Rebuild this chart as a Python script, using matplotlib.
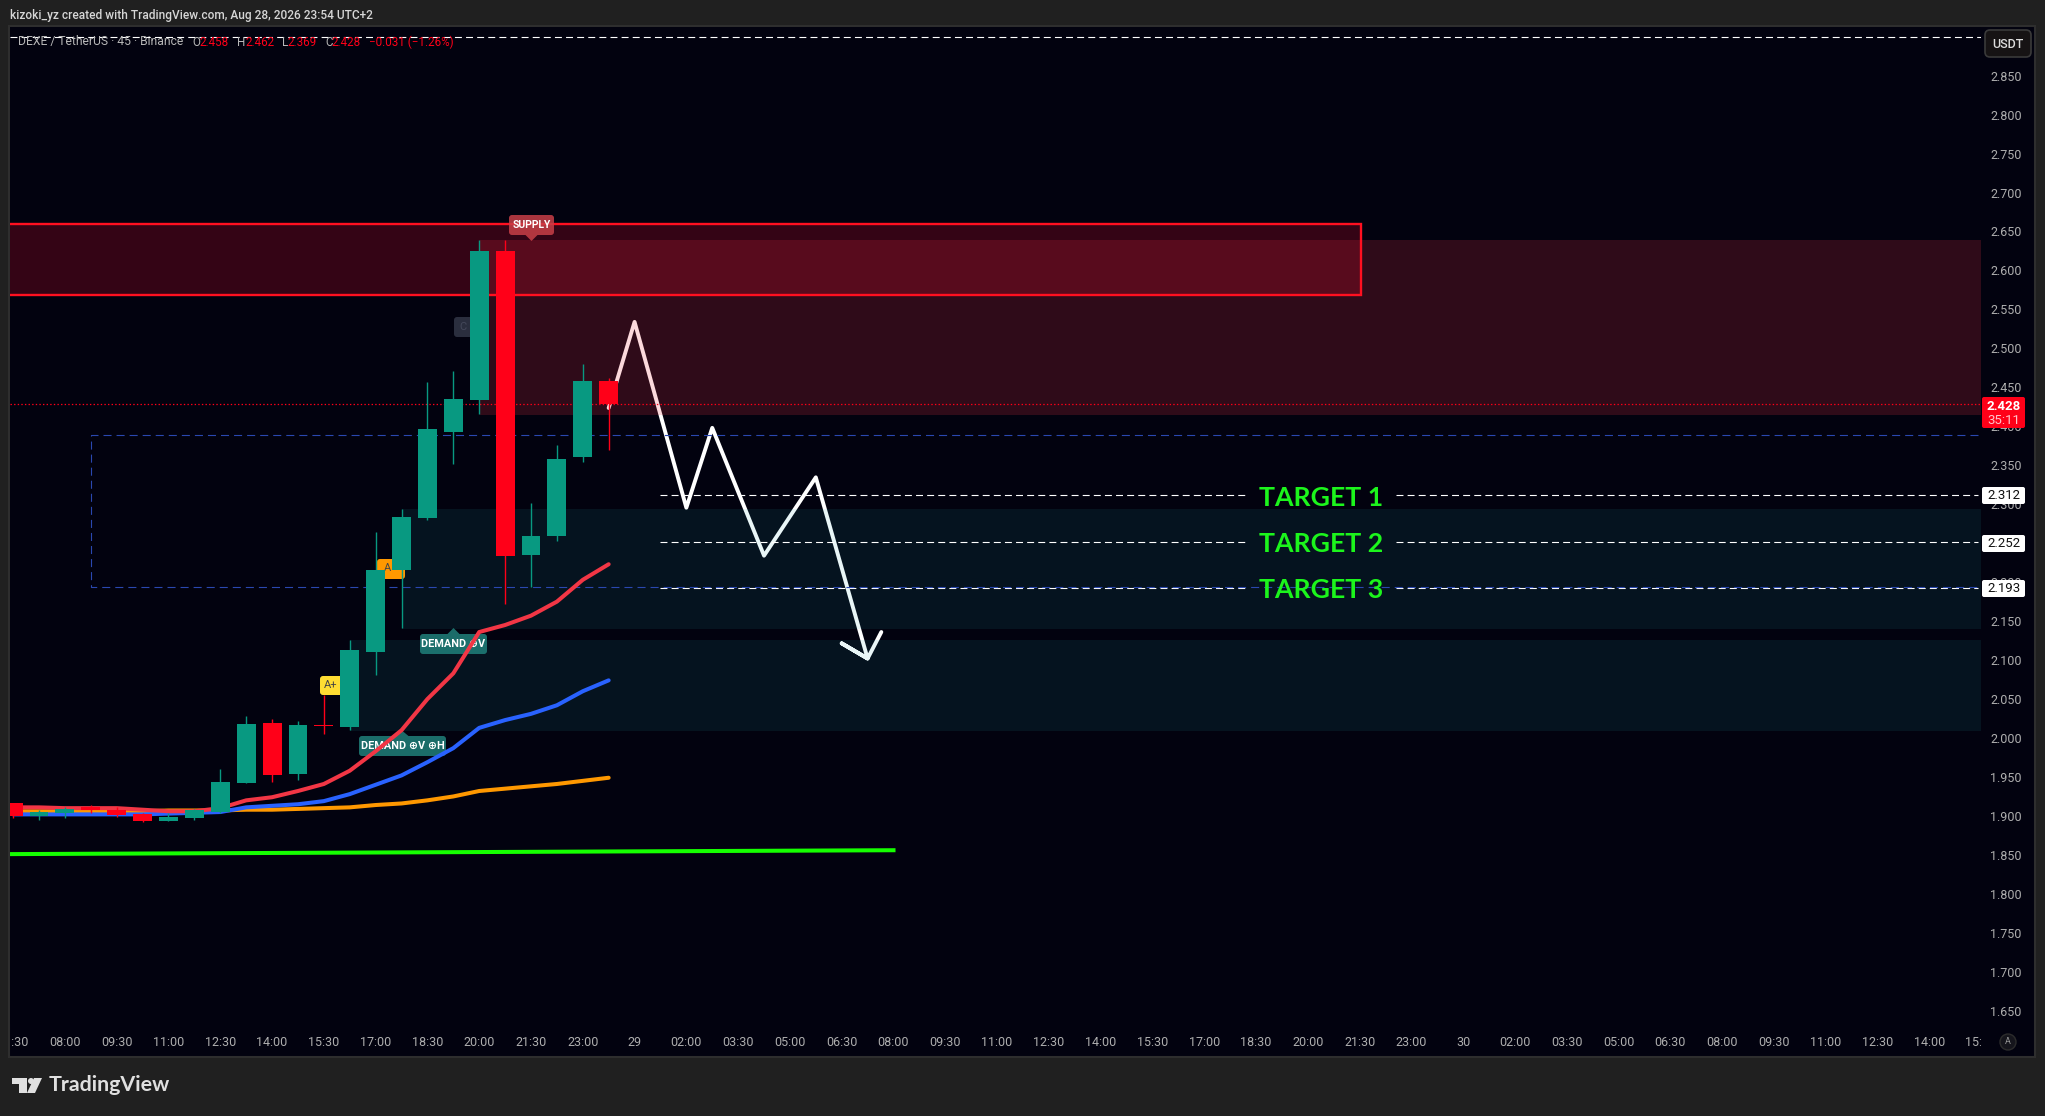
import matplotlib
matplotlib.use("Agg")
import matplotlib.pyplot as plt
import numpy as np
from matplotlib.patches import Circle, FancyBboxPatch, Polygon, Rectangle
from matplotlib.transforms import Affine2D, Bbox

# candles, x is the candle number counted from the 08:00 bar
candle_x = list(range(-2, 22))
opens = [1.917, 1.900, 1.904, 1.911, 1.908, 1.902, 1.893, 1.897, 1.905, 1.942, 2.019, 1.954,
         2.017, 2.014, 2.110, 2.216, 2.282, 2.393, 2.434, 2.625, 2.235, 2.259, 2.361, 2.458]
highs = [1.917, 1.908, 1.911, 1.914, 1.911, 1.904, 1.904, 1.909, 1.960, 2.028, 2.024, 2.022,
         2.055, 2.126, 2.264, 2.294, 2.457, 2.471, 2.639, 2.639, 2.302, 2.376, 2.480, 2.462]
lows = [1.897, 1.895, 1.897, 1.904, 1.899, 1.892, 1.893, 1.895, 1.904, 1.942, 1.944, 1.946,
        2.005, 2.010, 2.081, 2.141, 2.280, 2.352, 2.416, 2.172, 2.194, 2.253, 2.354, 2.369]
closes = [1.900, 1.905, 1.909, 1.908, 1.901, 1.893, 1.898, 1.907, 1.944, 2.018, 1.953, 2.017,
          2.016, 2.113, 2.216, 2.284, 2.397, 2.435, 2.625, 2.234, 2.259, 2.358, 2.458, 2.428]

ema_red = [1.911, 1.911, 1.910, 1.910, 1.910, 1.908, 1.906, 1.906, 1.910, 1.920, 1.924, 1.932,
           1.941, 1.958, 1.983, 2.010, 2.050, 2.083, 2.136, 2.145, 2.157, 2.175, 2.203, 2.223]
ema_blue = [1.902, 1.902, 1.902, 1.902, 1.902, 1.902, 1.903, 1.904, 1.905, 1.911, 1.913, 1.915,
            1.919, 1.928, 1.940, 1.952, 1.969, 1.987, 2.013, 2.023, 2.031, 2.042, 2.060, 2.074]
ema_orange = [1.906, 1.906, 1.906, 1.906, 1.906, 1.906, 1.907, 1.907, 1.907, 1.908, 1.908, 1.909,
              1.910, 1.911, 1.914, 1.916, 1.920, 1.925, 1.932, 1.935, 1.938, 1.941, 1.945, 1.949]
ema_green_x = [-2.2, 32]
ema_green = [1.851, 1.856]

# hand drawn projection
path_x = [21, 22, 24, 25, 27, 29, 31, 30, 31, 31.53]
path_y = [2.4235, 2.534, 2.2955, 2.398, 2.234, 2.3345, 2.102, 2.1215, 2.102, 2.136]

target_prices = [2.312, 2.252, 2.193]
target_names = ["TARGET 1", "TARGET 2", "TARGET 3"]
target_labels = ["2.312", "2.252", "2.193"]

last_price = 2.428
top_line_price = 2.90

y_ticks = np.arange(1.65, 2.851, 0.05)
x_ticks = list(range(-2, 74, 2))
x_labels = ["06:30", "08:00", "09:30", "11:00", "12:30", "14:00", "15:30", "17:00", "18:30",
            "20:00", "21:30", "23:00", "29", "02:00", "03:30", "05:00", "06:30", "08:00",
            "09:30", "11:00", "12:30", "14:00", "15:30", "17:00", "18:30", "20:00", "21:30",
            "23:00", "30", "02:00", "03:30", "05:00", "06:30", "08:00", "09:30", "11:00",
            "12:30", "14:00"]
x_ticks.append(74)
x_labels.append("15:30")

BG = "#02020f"
FRAME = "#202020"
UP = "#089981"
DOWN = "#ff0018"

plt.rcParams["font.family"] = ["Roboto", "DejaVu Sans"]
plt.rcParams["lines.scale_dashes"] = False

W, H = 2045, 1116
fig = plt.figure(figsize=(W / 100, H / 100), dpi=100, facecolor=FRAME)
px = Affine2D().scale(1, -1).translate(0, H)  # annotation positions in picture pixels

fig.add_artist(Rectangle((9, 26), 2026, 1031, transform=px, facecolor=BG, edgecolor="#2e2e2e",
                         lw=1.5, zorder=-1))

ax = fig.add_axes([10 / W, 1 - 1024 / H, (1981 - 10) / W, (1024 - 27) / H], facecolor=BG)
ax.set_xlim(-2.121, 73.89)
ax.set_ylim(1.633, 2.9124)
for s in ax.spines.values():
    s.set_visible(False)

# zones
ax.axhspan(2.415, 2.639, xmin=(16 + 2.121) / 76.011, color="#f23645", alpha=0.19, lw=0, zorder=1)
ax.axhspan(2.140, 2.294, xmin=(13 + 2.121) / 76.011, color="#28aab4", alpha=0.1, lw=0, zorder=1)
ax.axhspan(2.009, 2.126, xmin=(11 + 2.121) / 76.011, color="#28aab4", alpha=0.1, lw=0, zorder=1)
ax.add_patch(Rectangle((-3, 2.568), 53.04, 0.092, facecolor="#ff1030", alpha=0.2, lw=0, zorder=1.1))
ax.add_patch(Rectangle((-3, 2.568), 53.04, 0.092, fill=False, edgecolor="#ff1020", lw=1.7, zorder=1.2))

# dashed range box
blue_dash = (0, (5.8, 3.6))
ax.plot([73.89, 1, 1, 73.89], [2.389, 2.389, 2.194, 2.194], color="#2a48b0", lw=0.8, ls=blue_dash, zorder=1.6)

# level lines
ax.axhline(top_line_price, color="white", lw=0.8, ls=(0, (5, 3)), zorder=1.5)
ax.axhline(last_price, color=DOWN, lw=0.9, ls=(0, (1, 1.6)), zorder=1.5)
for p in target_prices:
    ax.plot([23, 45.6], [p, p], color="white", lw=0.8, ls=(0, (5, 3)), zorder=1.5)
    ax.plot([51.4, 73.89], [p, p], color="white", lw=0.8, ls=(0, (5, 3)), zorder=1.5)

# projection sits under the zones so it picks up their tint
ax.plot(path_x, path_y, color="white", lw=2.8, zorder=0.9, solid_joinstyle="round", solid_capstyle="round")


def badge(x0, y0, x1, y1, color, text, tip=None, text_color="white", alpha=0.85, size=7.5, weight="bold"):
    ax.add_patch(FancyBboxPatch((x0 + 2, y0 + 2), x1 - x0 - 4, y1 - y0 - 4, boxstyle="round,pad=2,rounding_size=3",
                                transform=px, facecolor=color, edgecolor="none", alpha=alpha, zorder=2, clip_on=False))
    if tip is not None:
        base = y1 if tip > y1 else y0
        cx = (x0 + x1) / 2
        ax.add_patch(Polygon([(cx - 6, base), (cx + 6, base), (cx, tip)], transform=px, facecolor=color,
                             edgecolor="none", alpha=alpha, zorder=2))
    ax.text((x0 + x1) / 2, (y0 + y1) / 2, text, transform=px, color=text_color, fontsize=size, weight=weight,
            ha="center", va="center", zorder=2.1)


badge(509, 215, 554, 235, "#c83f47", "SUPPLY", tip=241)
badge(420, 634, 487, 654, "#20807a", "DEMAND \u2295V", tip=628, size=7.8)
badge(359, 736, 446, 756, "#20807a", "DEMAND \u2295V \u2295H", tip=731, size=7.8)
badge(320, 676, 350, 695, "#ffdd33", "", alpha=1)
ax.text(331, 685, "A+", transform=px, color="#444444", fontsize=8, ha="center", va="center", zorder=2.1)
badge(377, 559, 405, 579, "#ff9800", "", alpha=1)
ax.text(387, 568, "A", transform=px, color="#444444", fontsize=8, ha="center", va="center", zorder=2.1)
badge(454, 317, 478, 337, "#2a2e3e", "", alpha=1)
ax.text(463, 327, "C", transform=px, color="#44485a", fontsize=8, ha="center", va="center", zorder=2.1)

# emas
for values, color in [(ema_orange, "#ff9800"), (ema_blue, "#2962ff"), (ema_red, "#f23645")]:
    ax.plot(candle_x, values, color=color, lw=2.9, zorder=3, solid_capstyle="round")
ax.plot(ema_green_x, ema_green, color="#15ff00", lw=2.9, zorder=3)

# candles
colors = [UP if c >= o else DOWN for o, c in zip(opens, closes)]
body_low = [min(o, c) for o, c in zip(opens, closes)]
body_h = [max(abs(c - o), 0.0012) for o, c in zip(opens, closes)]
ax.vlines(candle_x, lows, highs, colors=colors, lw=1, zorder=4)
ax.bar(candle_x, body_h, bottom=body_low, width=0.73, color=colors, lw=0, zorder=4)

# target names
for p, name in zip(target_prices, target_names):
    ax.text(48.5, p - 0.001, name, color="#1cf51c", fontsize=19.2, weight="bold", family="Lato", ha="center",
            va="center_baseline", zorder=5)

# axes text
ax.yaxis.tick_right()
ax.set_yticks(y_ticks)
ax.set_yticklabels([f"{v:.3f}" for v in y_ticks])
ax.set_xticks(x_ticks)
ax.set_xticklabels(x_labels)
ax.tick_params(axis="y", length=0, pad=6.5, labelsize=9, labelcolor="#aeaeae")
ax.tick_params(axis="x", length=0, pad=9, labelsize=9, labelcolor="#aeaeae")
clip = Bbox([[11, 0], [1981, H]])
for lab in ax.get_xticklabels():
    lab.set_clip_on(True)
    lab.set_clip_box(clip)

# price scale boxes
for p_label, yc in zip(target_labels, [495.5, 543.5, 588.5]):
    ax.add_patch(FancyBboxPatch((1983, yc - 7.5), 41, 15, boxstyle="round,pad=1,rounding_size=2", transform=px,
                                facecolor="white", edgecolor="none", zorder=6, clip_on=False))
    ax.text(2004, yc, p_label, transform=px, color="#111111", fontsize=9.5, ha="center", va="center", zorder=7)
ax.add_patch(FancyBboxPatch((1983, 398), 41, 29, boxstyle="round,pad=1,rounding_size=2", transform=px,
                            facecolor=DOWN, edgecolor="none", zorder=6, clip_on=False))
ax.text(2004, 406, "2.428", transform=px, color="white", fontsize=9.5, weight="bold", ha="center", va="center", zorder=7)
ax.text(2004, 420, "35:11", transform=px, color="#ffc4cb", fontsize=9.5, ha="center", va="center", zorder=7)

ax.add_patch(FancyBboxPatch((1988, 33), 40, 21, boxstyle="round,pad=3,rounding_size=5", transform=px,
                            facecolor="#161314", edgecolor="#3a3a3a", lw=1.2, zorder=6, clip_on=False))
ax.text(2008, 44, "USDT", transform=px, color="#dddddd", fontsize=9, weight="medium", ha="center", va="center", zorder=7)
fig.add_artist(Circle((2008, 1042), 8, transform=px, facecolor="#15151c", edgecolor="#2c2c2c", lw=1))
fig.text(2008, 1042, "A", transform=px, color="#9a9a9a", fontsize=6.5, ha="center", va="center")

# header and legend
fig.text(10, 15, "kizoki_yz created with TradingView.com, Aug 28, 2026 23:54 UTC+2", transform=px, color="#d6d6d6",
         fontsize=8.6, weight="medium", va="center")
fig.text(18, 42, "DEXE / TetherUS \u00b7 45 \u00b7 Binance", transform=px, color="#b8b8b8", fontsize=8.7, va="center")
legend_parts = [(192, "O", "#b8b8b8"), (200, "2.458", DOWN), (237, "H", "#b8b8b8"), (245, "2.462", DOWN),
                (282, "L", "#b8b8b8"), (287, "2.369", DOWN), (325, "C", "#b8b8b8"), (332, "2.428", DOWN),
                (369, "\u22120.031 (\u22121.26%)", DOWN)]
for x, s, c in legend_parts:
    fig.text(x, 42, s, transform=px, color=c, fontsize=8.4, va="center")

# footer logo
logo = "#e0e0e0"
fig.add_artist(Polygon([(12, 1078), (27, 1078), (27, 1093), (19, 1093), (19, 1084), (12, 1084)], transform=px,
                       facecolor=logo, edgecolor="none"))
fig.add_artist(Circle((31, 1081), 3, transform=px, facecolor=logo, edgecolor="none"))
fig.add_artist(Polygon([(34, 1078), (42, 1078), (35, 1093), (27, 1093)], transform=px, facecolor=logo, edgecolor="none"))
fig.text(49, 1085, "TradingView", transform=px, color=logo, fontsize=15.4, weight="bold", family="Lato", va="center")

fig.savefig("out.png", dpi=100, facecolor=fig.get_facecolor())
plt.close(fig)
